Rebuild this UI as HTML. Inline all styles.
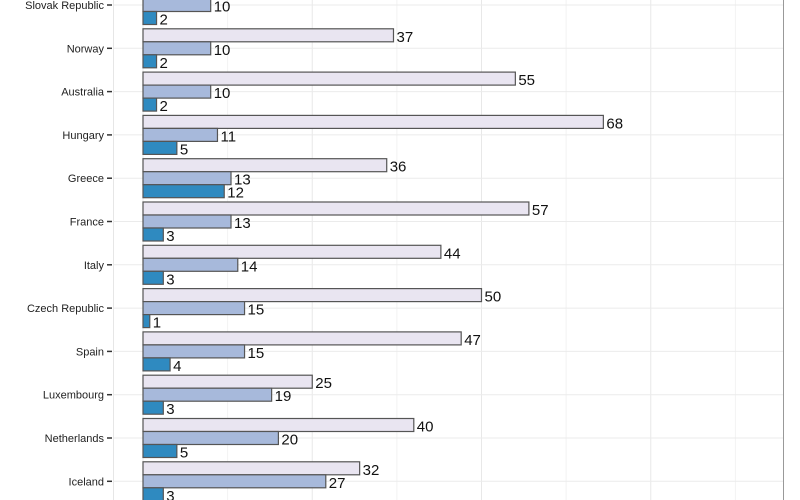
<!DOCTYPE html>
<html><head><meta charset="utf-8"><style>
html,body{margin:0;padding:0;background:#fff;}
svg{display:block;font-family:"Liberation Sans",sans-serif;}
</style></head><body>
<svg id="chart" width="800" height="500"></svg>
<script>
const categories = ["Slovak Republic","Norway","Australia","Hungary","Greece","France","Italy","Czech Republic","Spain","Luxembourg","Netherlands","Iceland"];
const seriesLight = [40,37,55,68,36,57,44,50,47,25,40,32];
const seriesMid = [10,10,10,11,13,13,14,15,15,19,20,27];
const seriesDark = [2,2,2,5,12,3,3,1,4,3,5,3];
const xGrid = [0,12.5,25,37.5,50,62.5,75,87.5,100];

const NS = "http://www.w3.org/2000/svg";
const svg = document.getElementById('chart');
const x0 = 143, pxPerUnit = 6.77;
const xScale = v => x0 + v * pxPerUnit;
const yCenter = i => 5 + i * 43.3;
const barH = 13;
function mk(tag, attrs, parent){const e=document.createElementNS(NS,tag);for(const k in attrs)e.setAttribute(k,attrs[k]);(parent||svg).appendChild(e);return e;}

const panel = mk('g',{});


mk('line',{x1:113.5,y1:0,x2:113.5,y2:500,stroke:'#e6e6e6','stroke-width':1},panel);
mk('line',{x1:783.5,y1:0,x2:783.5,y2:500,stroke:'#999','stroke-width':1},panel);
xGrid.forEach((v,k)=>{
  const x = xScale(v);
  if (x < 783) {
    const l = mk('line',{x1:x,y1:0,x2:x,y2:500,stroke:(k%2? '#f2f2f2':'#e8e8e8'),'stroke-width':1},panel);
    
    
  }
});
categories.forEach((c,i)=>{
  const y=yCenter(i);
  const l = mk('line',{x1:113,y1:y,x2:783,y2:y,stroke:'#ebebeb','stroke-width':1},panel);
  
  
});

const series = [
  {vals: seriesLight, fill:'#e9e5f1', off:-1.5*barH, name:'light'},
  {vals: seriesMid, fill:'#a7b9db', off:-0.5*barH, name:'mid'},
  {vals: seriesDark, fill:'#2f8ac0', off:0.5*barH, name:'dark'}
];
categories.forEach((c,i)=>{
  const y=yCenter(i);
  const lab = mk('text',{x:104,y:y+4,'text-anchor':'end','font-size':11,fill:'#222'});
  lab.textContent=c;
  
  
  const t = mk('line',{x1:107,y1:y,x2:112,y2:y,stroke:'#333','stroke-width':1.5});
  
  
  series.forEach(s=>{
    const v=s.vals[i];
    const r = mk('rect',{x:x0,y:y+s.off,width:xScale(v)-x0,height:barH,fill:s.fill,stroke:'#555','stroke-width':1.2});
    
    
    const tx = mk('text',{x:xScale(v)+3,y:y+s.off+barH,'font-size':15,fill:'#111'});
    tx.textContent=v;
    
    
  });
});
</script>
</body></html>
